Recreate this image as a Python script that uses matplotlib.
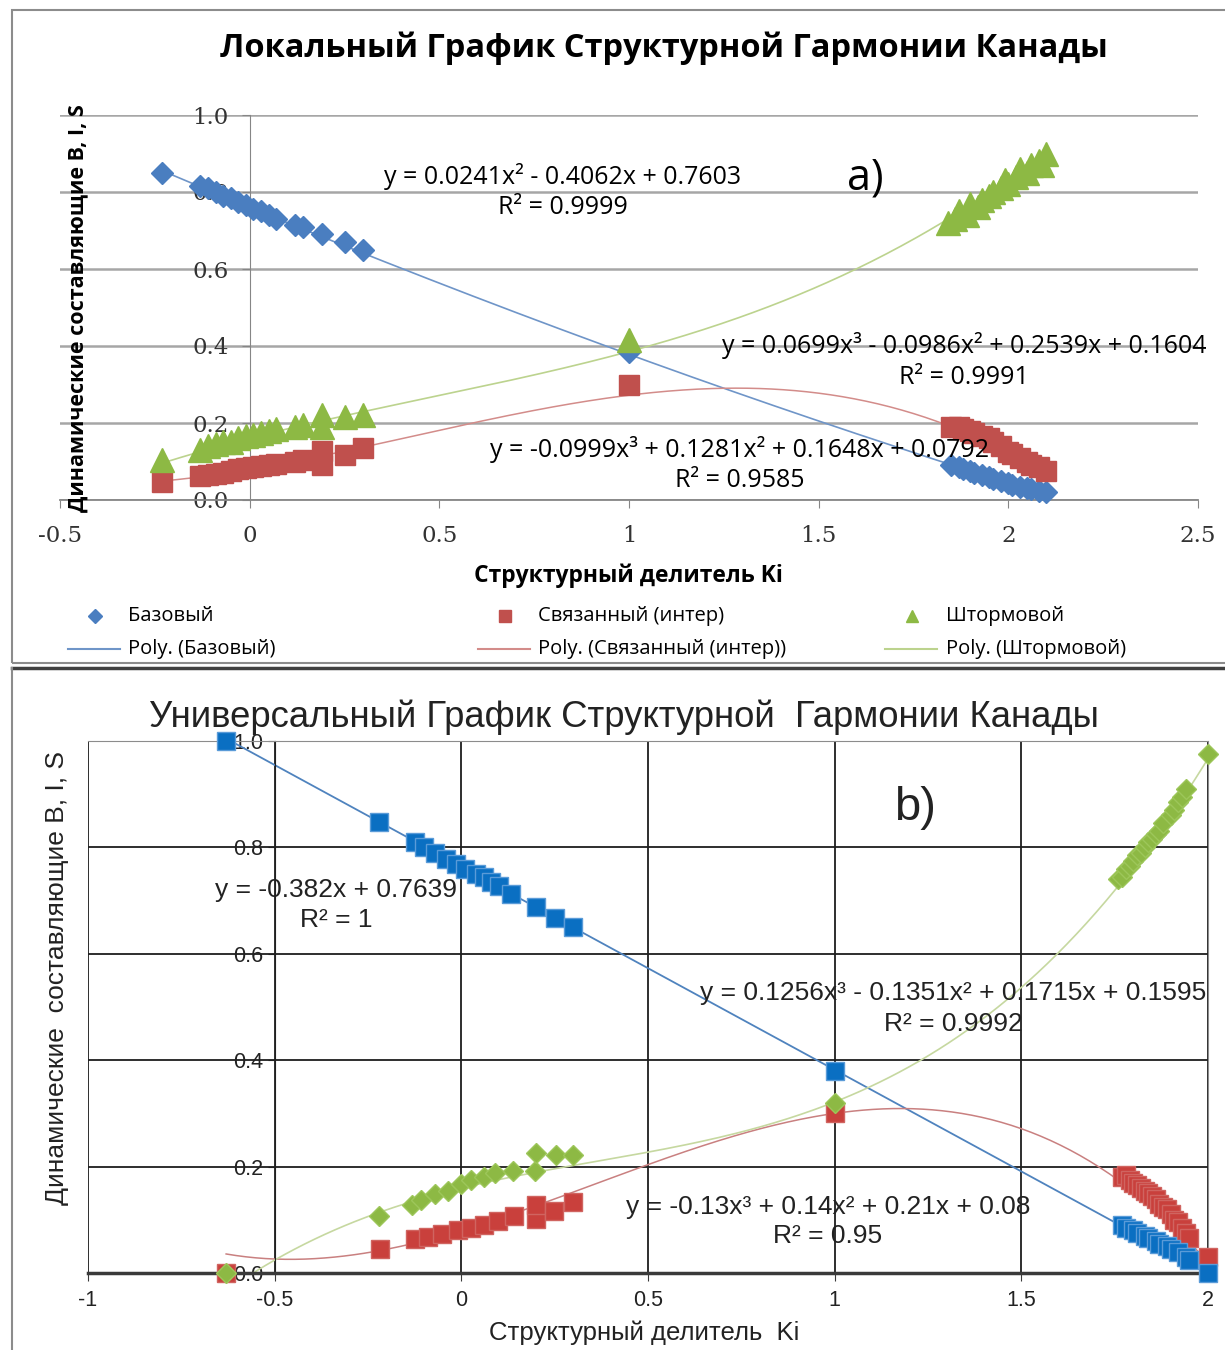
import numpy as np
import matplotlib
matplotlib.use('Agg')
import matplotlib.pyplot as plt
from matplotlib.lines import Line2D
from matplotlib.patches import Rectangle

W, H = 1225, 1350

# ---------- panel a) local chart ----------
top_base_x = [-0.23, -0.13, -0.11, -0.09, -0.07, -0.05, -0.03, -0.01, 0.01, 0.03, 0.05, 0.07,
              0.12, 0.14, 0.19, 0.25, 0.30, 1.0,
              1.85, 1.87, 1.88, 1.90, 1.91, 1.93, 1.95, 1.96, 1.98, 2.00, 2.01, 2.03, 2.05, 2.06, 2.08, 2.10]
top_base_y = [0.85, 0.815, 0.81, 0.80, 0.79, 0.785, 0.775, 0.765, 0.755, 0.75, 0.74, 0.73,
              0.715, 0.71, 0.69, 0.67, 0.65, 0.385,
              0.09, 0.085, 0.08, 0.075, 0.07, 0.065, 0.06, 0.055, 0.05, 0.045, 0.04, 0.035, 0.03, 0.028, 0.024, 0.02]

top_inter_x = [-0.23, -0.13, -0.11, -0.09, -0.07, -0.05, -0.03, -0.01, 0.01, 0.03, 0.05, 0.07,
               0.12, 0.14, 0.19, 0.19, 0.25, 0.30, 1.0,
               1.85, 1.87, 1.88, 1.90, 1.91, 1.93, 1.95, 1.96, 1.98, 2.00, 2.01, 2.03, 2.05, 2.06, 2.08, 2.10]
top_inter_y = [0.048, 0.062, 0.065, 0.067, 0.07, 0.075, 0.08, 0.082, 0.085, 0.088, 0.09, 0.093,
               0.10, 0.104, 0.092, 0.126, 0.117, 0.134, 0.30,
               0.19, 0.19, 0.185, 0.18, 0.175, 0.165, 0.16, 0.15, 0.14, 0.125, 0.12, 0.11, 0.10, 0.09, 0.085, 0.075]

top_storm_x = [-0.23, -0.13, -0.11, -0.09, -0.07, -0.05, -0.03, -0.01, 0.01, 0.03, 0.05, 0.07,
               0.12, 0.14, 0.19, 0.19, 0.25, 0.30, 1.0,
               1.84, 1.86, 1.87, 1.89, 1.90, 1.92, 1.93, 1.95, 1.96, 1.98, 1.99, 2.00, 2.02, 2.03,
               2.05, 2.06, 2.08, 2.09, 2.10]
top_storm_y = [0.105, 0.13, 0.14, 0.145, 0.15, 0.15, 0.16, 0.165, 0.17, 0.175, 0.18, 0.185,
               0.19, 0.195, 0.19, 0.22, 0.215, 0.22, 0.415,
               0.72, 0.73, 0.75, 0.74, 0.77, 0.76, 0.78, 0.79, 0.80, 0.81, 0.83, 0.82, 0.84, 0.86,
               0.85, 0.87, 0.88, 0.87, 0.90]

# trendline coefficients as printed on the chart (highest power first)
top_base_fit = [0.0241, -0.4062, 0.7603]
top_inter_fit = [-0.0999, 0.1281, 0.1648, 0.0792]
top_storm_fit = [0.0699, -0.0986, 0.2539, 0.1604]

top_xticks = [-0.5, 0, 0.5, 1, 1.5, 2, 2.5]
top_xlabels = ['-0.5', '0', '0.5', '1', '1.5', '2', '2.5']
top_yticks = [0.0, 0.2, 0.4, 0.6, 0.8, 1.0]
top_ylabels = ['0.0', '0.2', '0.4', '0.6', '0.8', '1.0']

# ---------- panel b) universal chart ----------
bot_base_x = [-0.63, -0.22, -0.125, -0.10, -0.07, -0.04, -0.013, 0.01, 0.04, 0.06, 0.08, 0.10,
              0.133, 0.20, 0.25, 0.30, 1.0,
              1.77, 1.78, 1.80, 1.81, 1.83, 1.84, 1.86, 1.87, 1.89, 1.90, 1.92, 1.94, 1.95, 2.0]
bot_base_y = [1.0, 0.848, 0.81, 0.80, 0.79, 0.778, 0.768, 0.76, 0.75, 0.745, 0.735, 0.727,
              0.713, 0.688, 0.668, 0.651, 0.38,
              0.09, 0.085, 0.08, 0.075, 0.07, 0.065, 0.06, 0.055, 0.05, 0.045, 0.04, 0.03, 0.025, 0.0]

bot_inter_x = [-0.63, -0.218, -0.125, -0.089, -0.053, -0.009, 0.027, 0.062, 0.098, 0.142, 0.20, 0.20,
               0.249, 0.298, 1.0,
               1.77, 1.78, 1.79, 1.80, 1.81, 1.82, 1.83, 1.84, 1.85, 1.86, 1.87, 1.88, 1.89, 1.90,
               1.91, 1.92, 1.93, 1.94, 1.95, 2.0]
bot_inter_y = [0.0, 0.046, 0.064, 0.067, 0.074, 0.081, 0.084, 0.091, 0.097, 0.107, 0.101, 0.128,
               0.117, 0.134, 0.30,
               0.18, 0.185, 0.175, 0.17, 0.165, 0.16, 0.155, 0.15, 0.145, 0.14, 0.13, 0.125, 0.12, 0.11,
               0.10, 0.095, 0.085, 0.075, 0.065, 0.03]

bot_storm_x = [-0.63, -0.22, -0.133, -0.107, -0.071, -0.036, 0.0, 0.027, 0.062, 0.089, 0.138, 0.196,
               0.20, 0.254, 0.298, 1.0,
               1.76, 1.77, 1.78, 1.79, 1.80, 1.81, 1.82, 1.83, 1.84, 1.85, 1.86, 1.87, 1.88, 1.90,
               1.91, 1.92, 1.93, 1.94, 2.0]
bot_storm_y = [0.0, 0.107, 0.128, 0.138, 0.148, 0.154, 0.168, 0.174, 0.181, 0.188, 0.191, 0.191,
               0.225, 0.221, 0.221, 0.32,
               0.74, 0.745, 0.76, 0.765, 0.775, 0.785, 0.79, 0.80, 0.81, 0.815, 0.825, 0.83, 0.845, 0.86,
               0.87, 0.885, 0.895, 0.91, 0.975]

bot_base_fit = [-0.382, 0.7639]
bot_inter_fit = [-0.13, 0.14, 0.21, 0.08]
bot_storm_fit = [0.1256, -0.1351, 0.1715, 0.1595]

bot_xticks = [-1, -0.5, 0, 0.5, 1, 1.5, 2]
bot_xlabels = ['-1', '-0.5', '0', '0.5', '1', '1.5', '2']
bot_yticks = [0.0, 0.2, 0.4, 0.6, 0.8, 1.0]
bot_ylabels = ['0.0', '0.2', '0.4', '0.6', '0.8', '1.0']

series_names = ['Базовый', 'Связанный (интер)', 'Штормовой']

TOP_FONT = ['Open Sans', 'DejaVu Sans']
BOT_FONT = ['Liberation Sans', 'DejaVu Sans']
SERIF = ['DejaVu Serif']


def fx(px):
    return px / W


def fy(py):
    return 1 - py / H


def box(x0, y0, x1, y1):
    return [fx(x0), fy(y1), (x1 - x0) / W, (y1 - y0) / H]


def trend(ax, xs, fit, color, lw):
    xx = np.linspace(min(xs), max(xs), 300)
    ax.plot(xx, np.polyval(fit, xx), color=color, lw=lw, zorder=2)


fig = plt.figure(figsize=(W / 100, H / 100), dpi=100)

# frames around both panels
fig.add_artist(Rectangle((fx(12), fy(663)), fx(1240) - fx(12), fy(10) - fy(663),
                         transform=fig.transFigure, fill=False, ec='#8C8C8C', lw=1.5))
fig.add_artist(Line2D([fx(12), fx(1225)], [fy(668), fy(668)], transform=fig.transFigure,
                      color='#404040', lw=2.5))
fig.add_artist(Line2D([fx(12), fx(12)], [fy(668), fy(1350)], transform=fig.transFigure,
                      color='#8C8C8C', lw=1.5))

# ================= panel a =================
ax1 = fig.add_axes(box(60, 115, 1198, 500))
ax1.patch.set_alpha(0)
c_blue, c_red, c_green = '#4A7EC0', '#C0504D', '#8DB944'
trend(ax1, top_base_x, top_base_fit, '#6F95C8', 1.2)
trend(ax1, top_inter_x, top_inter_fit, '#D38C8A', 1.1)
trend(ax1, top_storm_x, top_storm_fit, '#BCD38E', 1.2)
ax1.plot(top_base_x, top_base_y, ls='none', marker='D', ms=11, color=c_blue, mec=c_blue,
         clip_on=False, zorder=3)
ax1.plot(top_inter_x, top_inter_y, ls='none', marker='s', ms=15, color=c_red, mec=c_red,
         clip_on=False, zorder=3.1)
ax1.plot(top_storm_x, top_storm_y, ls='none', marker='^', ms=17, color=c_green, mec=c_green,
         clip_on=False, zorder=3.2)

ax1.set_xlim(-0.5, 2.5)
ax1.set_ylim(0, 1.0)
ax1.spines['top'].set_visible(False)
ax1.spines['right'].set_visible(False)
ax1.spines['left'].set_position(('data', 0))
ax1.spines['left'].set_color('#868686')
ax1.spines['bottom'].set_color('#868686')
ax1.spines['bottom'].set_linewidth(1.3)
ax1.set_xticks(top_xticks)
ax1.set_xticklabels(top_xlabels, fontfamily=SERIF, fontsize=16.5, color='#333333')
ax1.set_yticks(top_yticks)
ax1.set_yticklabels(top_ylabels, fontfamily=SERIF, fontsize=16.5, color='#333333')
ax1.tick_params(axis='x', direction='out', length=6, color='#868686', pad=12)
ax1.tick_params(axis='y', direction='out', length=6, color='#868686', pad=9)
ax1.yaxis.grid(True, color='#A6A6A6', lw=1.8)
ax1.set_axisbelow(True)

fig.text(fx(664), fy(48), 'Локальный График Структурной Гармонии Канады', ha='center', va='center',
         fontsize=23.5, fontweight='bold', family=TOP_FONT)
fig.text(fx(78), fy(308), 'Динамические составляющие B, I, S', rotation=90, ha='center', va='center',
         fontsize=15.5, fontweight='bold', family=TOP_FONT)
fig.text(fx(628), fy(576), 'Структурный делитель Ki', ha='center', va='center',
         fontsize=16.5, fontweight='bold', family=TOP_FONT)
eq_size = 18
fig.text(fx(563), fy(176), 'y = 0.0241x² - 0.4062x + 0.7603', ha='center', va='center',
         fontsize=eq_size, family=TOP_FONT)
fig.text(fx(563), fy(208), 'R² = 0.9999', ha='center', va='center', fontsize=eq_size, family=TOP_FONT)
fig.text(fx(964), fy(346), 'y = 0.0699x³ - 0.0986x² + 0.2539x + 0.1604', ha='center', va='center',
         fontsize=eq_size, family=TOP_FONT)
fig.text(fx(964), fy(377), 'R² = 0.9991', ha='center', va='center', fontsize=eq_size, family=TOP_FONT)
fig.text(fx(740), fy(450), 'y = -0.0999x³ + 0.1281x² + 0.1648x + 0.0792', ha='center', va='center',
         fontsize=eq_size, family=TOP_FONT)
fig.text(fx(740), fy(480), 'R² = 0.9585', ha='center', va='center', fontsize=eq_size, family=TOP_FONT)
fig.text(fx(865), fy(178), 'a)', ha='center', va='center', fontsize=31, family=TOP_FONT)

# legend (Excel style, three columns, two rows)
leg_cols = [(68, 95, 120, 128), (478, 505, 530, 538), (885, 912, 937, 946)]
leg_markers = [('D', 7, c_blue), ('s', 8, c_red), ('^', 9, c_green)]
leg_lines = ['#6F95C8', '#D38C8A', '#BCD38E']
for (l0, mx, l1, tx), (mk, ms, mc), lc, name in zip(leg_cols, leg_markers, leg_lines, series_names):
    fig.add_artist(Line2D([fx(mx)], [fy(616)], transform=fig.transFigure, ls='none',
                          marker=mk, ms=ms, color=mc))
    fig.text(fx(tx), fy(616), name, ha='left', va='center', fontsize=14.5, family=TOP_FONT)
    fig.add_artist(Line2D([fx(l0), fx(l1)], [fy(649), fy(649)], transform=fig.transFigure,
                          color=lc, lw=1.5))
    fig.text(fx(tx), fy(649), 'Poly. (' + name + ')', ha='left', va='center', fontsize=14.5,
             family=TOP_FONT)

# ================= panel b =================
ax2 = fig.add_axes(box(88, 741, 1208, 1273))
ax2.patch.set_alpha(0)
b_blue, b_red, b_green = '#0A6FC2', '#C9403C', '#8DB944'
trend(ax2, bot_base_x, bot_base_fit, '#4F83BE', 1.3)
trend(ax2, bot_inter_x, bot_inter_fit, '#C98080', 1.1)
trend(ax2, bot_storm_x, bot_storm_fit, '#C6D8A0', 1.2)
ax2.plot(bot_inter_x, bot_inter_y, ls='none', marker='s', ms=13, color=b_red, mec='#D06460',
         clip_on=False, zorder=3)
ax2.plot(bot_storm_x, bot_storm_y, ls='none', marker='D', ms=10.5, color=b_green, mec='#9DC65A',
         clip_on=False, zorder=3.1)
ax2.plot(bot_base_x, bot_base_y, ls='none', marker='s', ms=13, color=b_blue, mec='#5A9BD8',
         clip_on=False, zorder=3.2)

ax2.set_xlim(-1, 2)
ax2.set_ylim(0, 1.0)
for s in ['top', 'right']:
    ax2.spines[s].set_color('#8C8C8C')
ax2.spines['left'].set_position(('data', -0.5))
ax2.spines['left'].set_color('#202020')
ax2.spines['bottom'].set_color('#3A3A3A')
ax2.spines['bottom'].set_linewidth(2.5)
ax2.set_xticks(bot_xticks)
ax2.set_xticklabels(bot_xlabels, fontfamily=BOT_FONT, fontsize=15.5, color='#222222')
ax2.set_yticks(bot_yticks)
ax2.set_yticklabels(bot_ylabels, fontfamily=BOT_FONT, fontsize=15.5, color='#222222')
ax2.tick_params(axis='x', direction='out', length=6, color='#3A3A3A', pad=6)
ax2.tick_params(axis='y', direction='out', length=5, color='#202020', pad=3)
ax2.grid(True, color='#1E1E1E', lw=1.3)
ax2.set_axisbelow(True)

bot_eq = 19
fig.text(fx(624), fy(717), 'Универсальный График Структурной  Гармонии Канады', ha='center',
         va='center', fontsize=26.3, family=BOT_FONT, color='#222222')
fig.text(fx(57), fy(978), 'Динамические  составляющие B, I, S', rotation=90, ha='center',
         va='center', fontsize=19, family=BOT_FONT, color='#222222')
fig.text(fx(644), fy(1333), 'Структурный делитель  Ki', ha='center', va='center',
         fontsize=18.5, family=BOT_FONT, color='#222222')
fig.text(fx(336), fy(890), 'y = -0.382x + 0.7639', ha='center', va='center', fontsize=bot_eq,
         family=BOT_FONT, color='#222222')
fig.text(fx(336), fy(920), 'R² = 1', ha='center', va='center', fontsize=bot_eq, family=BOT_FONT,
         color='#222222')
fig.text(fx(953), fy(993), 'y = 0.1256x³ - 0.1351x² + 0.1715x + 0.1595', ha='center', va='center',
         fontsize=bot_eq, family=BOT_FONT, color='#222222')
fig.text(fx(953), fy(1024), 'R² = 0.9992', ha='center', va='center', fontsize=bot_eq, family=BOT_FONT,
         color='#222222')
fig.text(fx(828), fy(1207), 'y = -0.13x³ + 0.14x² + 0.21x + 0.08', ha='center', va='center',
         fontsize=bot_eq, family=BOT_FONT, color='#222222')
fig.text(fx(828), fy(1236), 'R² = 0.95', ha='center', va='center', fontsize=bot_eq, family=BOT_FONT,
         color='#222222')
fig.text(fx(915), fy(808), 'b)', ha='center', va='center', fontsize=34, family=BOT_FONT,
         color='#222222')

fig.savefig('out.png', dpi=100, facecolor='white')
